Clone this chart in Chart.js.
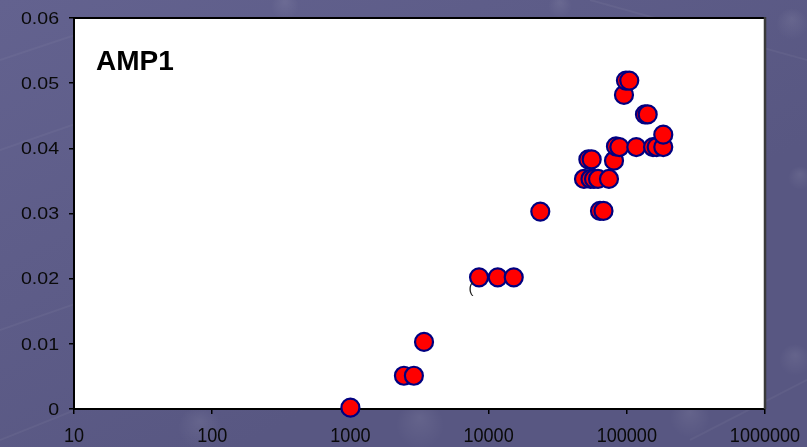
<!DOCTYPE html>
<html>
<head>
<meta charset="utf-8">
<script src="https://cdn.jsdelivr.net/npm/chart.js@4.4.1/dist/chart.umd.min.js"></script>
<style>
  html, body { margin: 0; padding: 0; background: #5d5c8a; }
  #wrap { width: 807px; height: 447px; position: relative; }
  canvas { display: block; }
</style>
</head>
<body>
<div id="wrap"><canvas id="c" width="807" height="447"></canvas></div>
<script>
// AMP1 measurements: x on a log scale, y linear
const sizes = [
  1000,
  2440, 2880,
  3410,
  8530, 11640, 15200,
  23660,
  63970, 67800,
  49000, 54600, 57900, 61900, 74300,
  52700, 55700, 80800,
  83500, 88300, 117100, 154800, 164500, 183600,
  183600,
  135400, 141600,
  95400,
  98600, 104200
];
const amp1 = [
  0.0002,
  0.0051, 0.0051,
  0.0103,
  0.0202, 0.0202, 0.0202,
  0.0303,
  0.0304, 0.0304,
  0.0353, 0.0353, 0.0353, 0.0353, 0.0353,
  0.0383, 0.0383, 0.0381,
  0.0403, 0.0402, 0.0402, 0.0402, 0.0402, 0.0402,
  0.0421,
  0.0452, 0.0452,
  0.0482,
  0.0504, 0.0504
];

const xTickValues = [10, 100, 1000, 10000, 100000, 1000000];
const xTickLabels = ['10', '100', '1000', '10000', '100000', '1000000'];
const yTickValues = [0, 0.01, 0.02, 0.03, 0.04, 0.05, 0.06];
const yTickLabels = ['0', '0.01', '0.02', '0.03', '0.04', '0.05', '0.06'];

const panelTitle = 'AMP1';
// small stray bracket left next to the 0.02 group
const strayMark = { text: '(', x: 7465, y: 0.0185 };

const points = sizes.map((s, i) => ({ x: s, y: amp1[i] }));

// slide-style backdrop and the white plot panel
const backdrop = {
  id: 'backdrop',
  beforeDraw(chart) {
    const { ctx, width, height, chartArea: a } = chart;
    ctx.save();
    const g = ctx.createLinearGradient(0, 0, width * 0.3, height);
    g.addColorStop(0, '#63628f');
    g.addColorStop(1, '#585782');
    ctx.fillStyle = g;
    ctx.fillRect(0, 0, width, height);

    // faint streaks and discs of the slide texture
    ctx.strokeStyle = 'rgba(255,255,255,0.045)';
    ctx.lineWidth = 2;
    const streaks = [[0, 150, 260, 60], [0, 330, 230, 250], [0, 440, 150, 380], [590, 0, 807, 60], [690, 440, 807, 380], [0, 60, 120, 20]];
    streaks.forEach(([x1, y1, x2, y2]) => { ctx.beginPath(); ctx.moveTo(x1, y1); ctx.lineTo(x2, y2); ctx.stroke(); });
    const discs = [[200, 428, 22], [420, 425, 24], [690, 418, 20], [792, 24, 16], [800, 178, 12], [795, 360, 16], [285, 6, 14], [560, 6, 12]];
    discs.forEach(([x, y, r]) => {
      const rg = ctx.createRadialGradient(x, y - r * 0.3, 1, x, y, r);
      rg.addColorStop(0, 'rgba(255,255,255,0.07)');
      rg.addColorStop(1, 'rgba(255,255,255,0)');
      ctx.fillStyle = rg;
      ctx.beginPath(); ctx.arc(x, y, r, 0, Math.PI * 2); ctx.fill();
    });

    ctx.fillStyle = '#ffffff';
    ctx.fillRect(a.left, a.top, a.right - a.left, a.bottom - a.top);
    ctx.restore();
  },
  beforeDatasetsDraw(chart) {
    const { ctx, chartArea: a } = chart;
    ctx.save();
    ctx.strokeStyle = '#000000';
    ctx.lineWidth = 2;
    ctx.beginPath(); ctx.moveTo(a.left, a.top); ctx.lineTo(a.right, a.top); ctx.stroke();
    ctx.strokeStyle = '#3a3a3a';
    ctx.lineWidth = 2.5;
    ctx.beginPath(); ctx.moveTo(a.right, a.top - 1); ctx.lineTo(a.right, a.bottom); ctx.stroke();
    ctx.restore();
  }
};

// tick labels (drawn with their own width scaling), panel title, stray mark
const texts = {
  id: 'texts',
  afterDraw(chart) {
    const { ctx, chartArea: a } = chart;
    const xs = chart.scales.x, ys = chart.scales.y;
    ctx.save();
    ctx.fillStyle = '#0a0a0a';

    ctx.font = '17px "Liberation Sans", Arial, sans-serif';
    ctx.textBaseline = 'middle';
    ctx.textAlign = 'right';
    yTickValues.forEach((v, i) => {
      const py = ys.getPixelForValue(v);
      ctx.save();
      ctx.translate(a.left - 15, py + 1);
      ctx.scale(1.15, 1);
      ctx.fillText(yTickLabels[i], 0, 0);
      ctx.restore();
    });

    ctx.font = '21px "Liberation Sans", Arial, sans-serif';
    ctx.textBaseline = 'alphabetic';
    ctx.textAlign = 'center';
    xTickValues.forEach((v, i) => {
      const px = xs.getPixelForValue(v);
      ctx.save();
      ctx.translate(px, a.bottom + 33);
      ctx.scale(0.86, 1);
      ctx.fillText(xTickLabels[i], 0, 0);
      ctx.restore();
    });

    ctx.fillStyle = '#000000';
    ctx.font = 'bold 28px "Liberation Sans", Arial, sans-serif';
    ctx.textAlign = 'left';
    ctx.fillText(panelTitle, a.left + 22, a.top + 52);

    ctx.font = '15px "Liberation Sans", Arial, sans-serif';
    ctx.textAlign = 'center';
    ctx.textBaseline = 'middle';
    ctx.fillStyle = '#222222';
    ctx.fillText(strayMark.text, xs.getPixelForValue(strayMark.x), ys.getPixelForValue(strayMark.y));
    ctx.restore();
  }
};

new Chart(document.getElementById('c'), {
  type: 'scatter',
  data: {
    datasets: [{
      label: panelTitle,
      data: points,
      pointRadius: 9,
      pointHoverRadius: 9,
      pointBackgroundColor: '#ff0000',
      pointBorderColor: '#000080',
      pointBorderWidth: 2.2,
      showLine: false,
      clip: false
    }]
  },
  options: {
    responsive: false,
    animation: false,
    devicePixelRatio: 1,
    layout: { padding: { left: 69, right: 42, top: 18, bottom: 33 } },
    plugins: { legend: { display: false }, tooltip: { enabled: false } },
    scales: {
      x: {
        type: 'logarithmic',
        min: 10,
        max: 1000000,
        afterBuildTicks: s => { s.ticks = xTickValues.map(v => ({ value: v, major: true })); },
        ticks: { display: false },
        grid: { drawOnChartArea: false, drawTicks: true, tickLength: 5, color: '#000000', lineWidth: 1.5 },
        border: { display: true, color: '#000000', width: 2 }
      },
      y: {
        min: 0,
        max: 0.06,
        afterBuildTicks: s => { s.ticks = yTickValues.map(v => ({ value: v })); },
        ticks: { display: false },
        grid: { drawOnChartArea: false, drawTicks: true, tickLength: 5, color: '#000000', lineWidth: 1.5 },
        border: { display: true, color: '#000000', width: 2 }
      }
    }
  },
  plugins: [backdrop, texts]
});
</script>
</body>
</html>
